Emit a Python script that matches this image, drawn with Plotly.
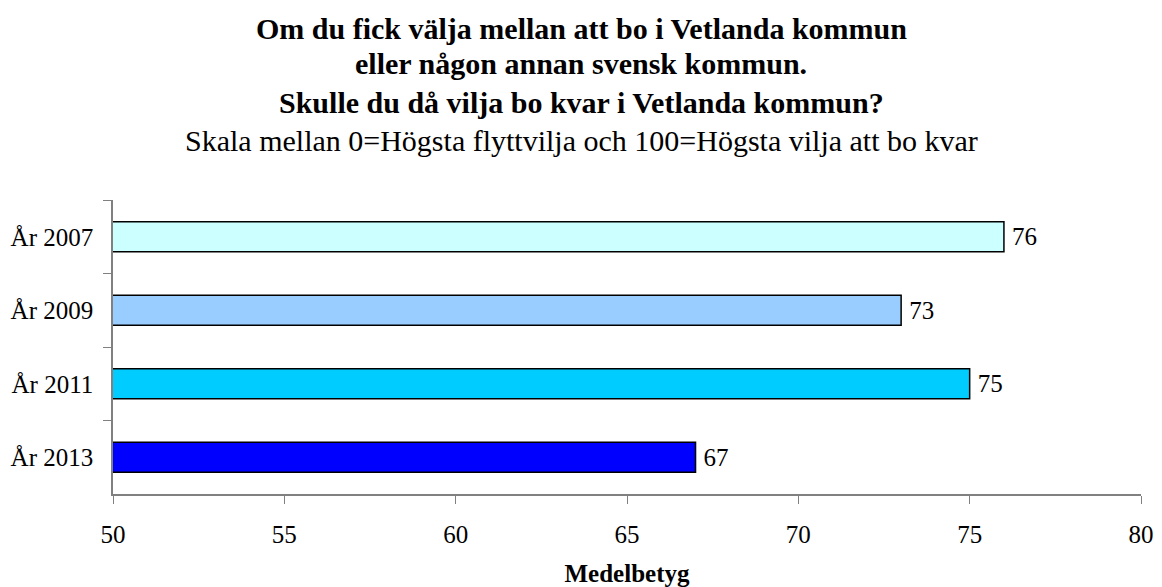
import plotly.graph_objects as go

categories = ["År 2007", "År 2009", "År 2011", "År 2013"]
values = [76, 73, 75, 67]
colors = ["#CCFFFF", "#99CCFF", "#00CCFF", "#0000FF"]
x_ticks = [50, 55, 60, 65, 70, 75, 80]

title_lines = [
    "Om du fick välja mellan att bo i Vetlanda kommun",
    "eller någon annan svensk kommun.",
    "Skulle du då vilja bo kvar i Vetlanda kommun?",
]
subtitle = "Skala mellan 0=Högsta flyttvilja och 100=Högsta vilja att bo kvar"
x_title = "Medelbetyg"

FONT = "Liberation Serif"
W, H = 1162, 587
ML, MR, MT, MB = 113, 21, 200, 93
PH = H - MT - MB
PW = W - ML - MR

fig = go.Figure()
fig.add_trace(go.Bar(
    y=categories,
    x=values,
    orientation="h",
    marker=dict(color=colors, line=dict(color="black", width=1.5)),
    text=values,
    texttemplate="\u2009%{text}",
    textposition="outside",
    textfont=dict(family=FONT, size=25, color="black"),
    cliponaxis=False,
    hoverinfo="skip",
))

annotations = []
centers = [28, 63, 102]
for line, cy in zip(title_lines, centers):
    annotations.append(dict(
        text="<b>" + line + "</b>", xref="paper", yref="paper",
        x=(W / 2 - ML) / PW, y=(H - MB - cy) / PH,
        xanchor="center", yanchor="middle", showarrow=False,
        font=dict(family=FONT, size=30, color="black"),
    ))
annotations.append(dict(
    text=subtitle, xref="paper", yref="paper",
    x=(W / 2 - ML) / PW, y=(H - MB - 140) / PH,
    xanchor="center", yanchor="middle", showarrow=False,
    font=dict(family=FONT, size=30, color="black"),
))

fig.update_layout(
    template="none",
    width=W, height=H,
    margin=dict(l=ML, r=MR, t=MT, b=MB, pad=0, autoexpand=False),
    paper_bgcolor="white", plot_bgcolor="white",
    showlegend=False,
    bargap=0.59,
    font=dict(family=FONT, color="black"),
    annotations=annotations,
    xaxis=dict(
        range=[50, 80], tickvals=x_ticks, ticks="outside", ticklen=8,
        tickcolor="#808080", showline=True, linecolor="#808080", linewidth=1.5,
        showgrid=False, zeroline=False, automargin=False,
        tickfont=dict(family=FONT, size=25, color="black"),
        ticklabelstandoff=9,
        title=dict(text="<b>" + x_title + "</b>", font=dict(family=FONT, size=25, color="black"), standoff=31),
    ),
    yaxis=dict(
        categoryorder="array", categoryarray=categories, autorange="reversed",
        ticks="outside", ticklen=8, tickson="boundaries",
        tickcolor="#808080", showline=True, linecolor="#808080", linewidth=1.5,
        showgrid=False, zeroline=False, automargin=False,
        ticklabelstandoff=13,
        tickfont=dict(family=FONT, size=25, color="black"),
    ),
)

fig.write_html(
    "out.html",
    config={"displayModeBar": False},
    post_script="document.body.style.margin='0';document.body.style.overflow='hidden';",
)
